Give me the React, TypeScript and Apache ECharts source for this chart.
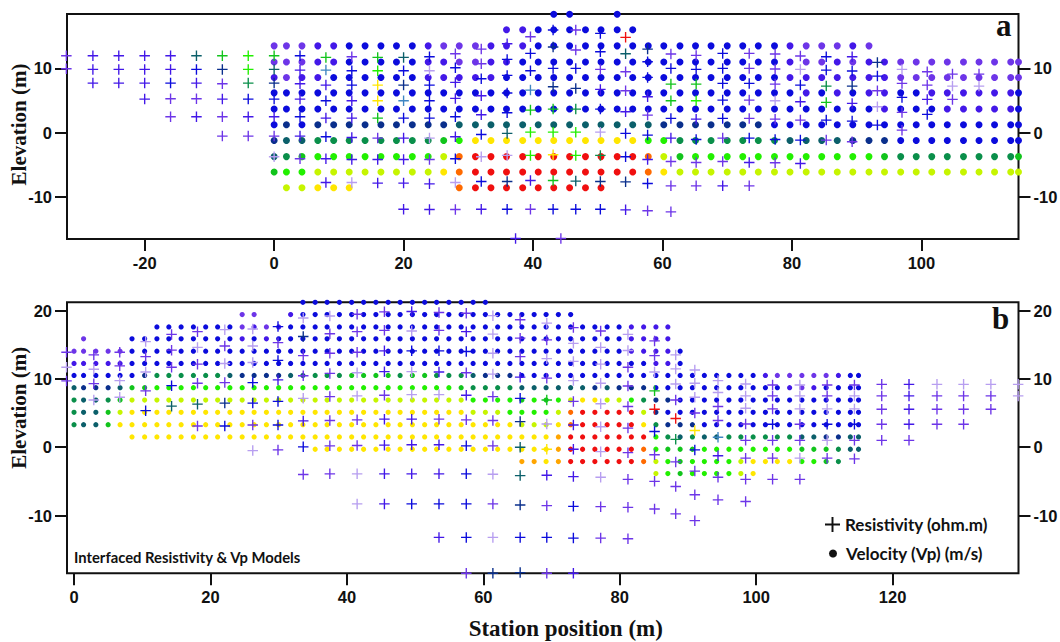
import React, { useEffect, useRef } from "react";
import * as echarts from "echarts";

const RES_NAME = "Resistivity (ohm.m)";
const VEL_NAME = "Velocity (Vp) (m/s)";

const palette: Record<string, string> = {
  v: "#6d35e8", i: "#4318e8", b: "#0b0bdc", n: "#0a2f8c", t: "#0b5f6a",
  g: "#0a8f4a", G: "#12c41c", l: "#22f000", y: "#c6f500", Y: "#ffe600",
  a: "#ffa500", o: "#ff6a00", r: "#f00f0f", c: "#3f86c2", f: "#b79ef0",
};

// Panel a: velocity grid
const velXA = [0,1.9,4.3,6.75,9.2,11.6,14.05,16.5,18.9,21.35,23.8,26.2,28.6,31.1,33.5,35.9,38.4,40.8,43.2,45.65,48.1,50.5,53,55.4,57.8,60.2,62.7,65.1,67.5,70,72.4,74.8,77.3,79.7,82.2,84.6,87,89.4,91.9,94.3,96.8,99.2,101.6,104,106.5,108.9,111.3,113.8,115];
const velYA = [18.4,16,13.5,11,8.6,6.2,3.7,1.25,-1.2,-3.7,-6.1,-8.55];
const velCodesA = [
  ".................." + "bb" + ".." + "b" + "..........................",
  "..............." + "iibbbbbbb" + ".........................",
  "vvvii" + "bbbbb" + "ivvv" + "iii" + "bbbbbbbbbbbbbbbb" + "i" + "vvv" + "i" + "v" + "..........",
  "vvvii" + "bbbbb" + "iivvii" + "b" + "bbbbbbbbbbbbbbbb" + "i" + "vvi" + "vii" + "vvvvvvvvvv",
  "ivii" + "bbbbbb" + "iiiii" + "bb" + "bbbbbbbbbbbbbbbb" + "iiiiiii" + "vvvvvvvvv",
  "bbbbbbbbbb" + "bbbbbbb" + "bbbbbbbbbbbbbbbb" + "bibib" + "iibbiiiiiib",
  "bbbbbbbbbb" + "bbbbbbb" + "bbbbbbbbbbbbbbbb" + "bbbbbb" + "ibbbiiiiib",
  "bnbnnnnnnnnn" + "ttttttttttttt" + "nnnnnnn" + "bbbbbbbbbbbbbbbbb",
  "n" + "tt" + "gggggggg" + "G" + "l" + "YYYYYYYYYYY" + "ll" + "ggggggg" + "tttt" + "nnn" + "bbbbbbbbb",
  "tgG" + "llllllll" + "y" + "o" + "rrrrrrrrrrr" + "o" + "y" + "G" + "llllllllllll" + "G" + "gggggggg" + "G",
  "Gll" + "yyyyyyyy" + "Y" + "o" + "rrrrrrrrrrr" + "o" + "Y" + "yyyyyyyyyyyyyyyyyyyyyyy",
  "." + "yyYYY" + "......" + "o" + "rrrrrrrrr" + "...........................",
];

// Panel a: resistivity columns
const resXA = [-32.1,-28,-24,-20,-16,-12,-8,-4,0,4,8,12,16,20,24,28,32,36,37.3,39.6,43.1,44.3,46.6,50.4,54.3,57.7,61.3,65.2,69.3,73.4,77.4,81.3,85.3,89.3,93.2,97,100.9,104.8,108.9];
const resYA = [
  [11.97,9.95],
  [11.97,9.84,7.72],
  [11.97,9.84,7.72],
  [11.97,9.84,7.72,5.23],
  [11.97,9.84,7.72,5.28,2.49],
  [11.97,9.84,7.72,5.28,2.49],
  [11.97,9.84,7.62,5.23,2.49,-0.52],
  [11.97,9.84,7.72,5.23,2.49,-0.52],
  [11.97,9.84,7.72,5.23,2.49,-0.52,-3.73],
  [11.97,9.74,7.62,5.23,2.49,-0.52,-4.04],
  [11.71,9.74,7.41,4.97,2.28,-0.62,-4.04,-7.72],
  [11.81,9.64,7.41,4.97,2.28,-0.73,-4.15,-7.72],
  [11.71,9.64,7.41,4.97,2.28,-0.83,-4.15,-7.82],
  [11.71,9.64,7.41,4.97,2.28,-0.83,-4.15,-7.82,-11.87],
  [11.81,9.64,7.41,4.97,2.28,-0.83,-4.15,-7.93,-11.92],
  [12.28,10.1,7.82,5.34,2.49,-0.62,-4.04,-7.72,-11.92],
  [13,10.73,8.39,5.75,2.8,-0.26,-3.73,-7.56,-11.87],
  [13.83,11.4,8.91,6.17,3.11,-0.1,-3.52,-7.56,-11.87],
  [-16.42],
  [14.92,12.33,9.64,6.63,3.52,0.1,-3.52,-7.41,-11.87],
  [15.96,13.32,10,7.15,3.68,0.1,-3.42,-7.41,-11.87],
  [-16.42],
  [15.96,12.85,10,6.89,3.68,0.1,-3.52,-7.51,-11.87],
  [15.44,12.59,9.84,6.74,3.68,0.1,-3.52,-7.56,-11.87],
  [14.82,12.28,9.48,6.53,3.26,-0.1,-3.73,-7.62,-11.97],
  [13,11.04,8.6,5.6,2.75,-0.36,-4.15,-7.88,-12.12],
  [12.23,10,7.56,4.97,2.23,-0.83,-4.46,-8.24,-12.28],
  [12.02,9.84,7.56,4.97,2.12,-1.04,-4.61,-8.24],
  [12.33,10,7.67,5.08,2.23,-0.83,-4.46,-8.24],
  [12.33,10,7.67,5.08,2.23,-0.83,-4.61,-8.24],
  [12.23,9.9,7.56,4.97,2.12,-1.04,-4.66],
  [11.92,9.84,7.41,4.82,1.97,-1.14,-4.77],
  [11.81,9.74,7.25,4.72,1.97,-1.14],
  [11.81,9.59,7.25,4.56,1.81,-1.4],
  [10.93,8.81,6.53,4.04,1.19],
  [9.84,7.67,5.49,3.16,0.41],
  [9.48,7.41,5.18,2.85],
  [9.12,7.25,5.18],
  [9.12,7.25],
];
const resCodesA = ["vv","iii","iii","iiii","iibvv","tbivi","Gnvivv","llgbiv","Gtnbivf","biiibiv","Gcibibii","vbbiiiif","GlYYGvii","tbncbiiii","bfbbbfvii","vbiibibfv","vvbiibfbi","ibbbbtfnb","i","vbbcGlliv","bnbnGlYGb","v","vvbnglltb","bbvibfgnb","rtvvibbni","nbbivbibv","vbGGbivvv","vbGlibvv","bbbbbvvi","vvbvvbiv","vvvfvbv","vfbivbi","bbgGbv","ibnibv","nbvfb","fvbvv","vvib","vfv","vf"];

// Panel b: velocity grid
const velXB = [0,1.4,3.2,5,6.75,8.5,10.35,12.15,13.9,15.7,17.5,19.3,21.05,22.85,24.65,26.4,28.2,30,31.75,33.55,35.35,37.1,38.9,40.7,42.45,44.25,46.05,47.8,49.6,51.4,53.15,54.95,56.75,58.5,60.3,62.1,63.9,65.65,67.45,69.2,71,72.8,74.55,76.35,78.15,79.9,81.7,83.5,85.3,87.05,88.85,90.65,92.4,94.2,96,97.75,99.55,101.35,103.1,104.9,106.7,108.45,110.25,112.05,113.8,115];
const velYB = [21.2,19.4,17.6,15.85,14.05,12.25,10.5,8.7,6.9,5.1,3.3,1.5,-0.3,-2.1,-3.85];
const velCodesB = [
  "..................." + "bbbbbbbbbbbbbbbb" + "...............................",
  ".............." + "vv" + ".." + "i" + "bbbbbbbbbbbbbbbbbbbbbbb" + "........................",
  "......." + "bbbbbbb" + "vivi" + "bbbbbbbbbbbbbbbbbbbbbbbbbbbb" + "iiii" + "................",
  ".v..." + "bbbbbbbbb" + "ibib" + "bbbbbbbbbbbbbbbbbbbbbbbbbbbb" + "iiii" + "................",
  "vvvvv" + "bbbbbbbbbbbbbbbbbbbbbbbbbbbbbbbbbbbbbbbbb" + "iiiib" + "...............",
  "iiiii" + "bbbbbbbbbbbbbbbbbbbbbbbbbbbbbbbbbbbbbbbbb" + "bbiib" + "...............",
  "bbbbbb" + "n" + "gggggg" + "t" + "nnnn" + "tt" + "ggg" + "GGGG" + "g" + "GG" + "ggg" + "t" + "nnn" + "bbbbbbbbbbbbbbbbbbbb" + "i" + "vvvvv" + "ibb",
  "tnnnt" + "GG" + "lllllllllllllllllllllllll" + "G" + "gggg" + "t" + "ttttt" + "nt" + "nnn" + "bbbbbbbbbbb" + "ivib" + "bbb",
  "gttgG" + "yyyyyyyyyyyyyyyyyyyyyyyyyyyy" + "llll" + "G" + "l" + "G" + "l" + "y" + "YY" + "yy" + "l" + "g" + "nn" + "bbbbbbbbbbbbbbbb",
  "gttGy" + "YYYYYYYYYYYYYYYYYYYYYYYYYYYY" + "yyy" + "ll" + "ll" + "y" + "o" + "rrrrr" + "y" + "n" + "bbbbbbbbbbbbbbbbb",
  "gttG" + "YYYYYYYYYYYYYYYYYYYYYYYYYYYYYYYYY" + "yyy" + "Y" + "o" + "rrrrr" + "Y" + "g" + "nnn" + "bbbbbbbbbbbbbb",
  "....." + "YYYYYYYYYYYYYYYYYYYYYYYYYYYYYYYYYYY" + "a" + "rrrrrrr" + "l" + "gtgtt" + "gggggg" + "tt" + "nn" + "tt",
  "...................." + "YYYYYYYYYYYYYYYYYYYY" + "a" + "rrrrrr" + "o" + "lGGG" + "llllllll" + "GGG" + "g" + "tt",
  "....................................." + "aa" + "Y" + "a" + "rrrrrr" + "o" + "ylG" + "llll" + "y" + "YYYY" + "ll" + "Gg" + "..",
  "................................................" + "ylGllllyY" + ".........",
];

// Panel b: resistivity columns
const resXB = [-1.1,2.9,6.7,10.5,14.3,18.1,22.1,26.2,29.9,33.6,37.5,41.5,45.5,49.5,53.5,57.5,61.4,65.4,69.3,73.2,77.2,81.2,85.1,88.2,91,94.4,98.45,102.4,106.4,110.4,114.4,118.4,122.4,126.5,130.4,134.4,138.4];
const resYB = [
  [13.9,11.7,9.7],
  [13.5,11.4,9.3,6.9],
  [13.9,11.9,9.75,7.3],
  [15.45,13.25,11,8.25,5.35],
  [16.5,14.2,11.7,9,6],
  [16.9,14.6,12.15,9.35,6.3,3.1],
  [17.2,14.8,12.25,9.45,6.45,3.1],
  [17.3,14.8,12.4,9.45,6.45,3.25,-0.5],
  [17.65,15.3,12.7,9.85,6.7,3.25,-0.4],
  [18.9,16.2,13.4,10.45,7.15,3.85,0.05,-4],
  [19.2,16.6,13.75,10.8,7.4,3.9,0.2,-3.9],
  [19.45,16.9,13.9,10.9,7.5,4,0.25,-3.9,-8.3],
  [19.8,17.1,14.1,11.05,7.6,4.1,0.3,-3.9,-8.3],
  [19.85,17,14.1,11.05,7.7,4.1,0.35,-3.9,-8.3],
  [19.7,17.1,14.1,11,7.7,4.1,0.35,-3.9,-8.3,-13.2],
  [19.6,16.9,14,10.9,7.6,4,0.2,-3.9,-8.3,-13.2,-18.45],
  [19.25,16.55,13.75,10.7,7.4,3.9,0.2,-3.95,-8.3,-13.2,-18.45],
  [18.65,15.95,13.25,10.25,7.15,3.75,0,-4.15,-8.45,-13.2,-18.35],
  [18.15,15.7,12.95,10.1,6.9,3.4,-0.3,-4.1,-8.55,-13.2,-18.45],
  [17.5,15.2,12.55,9.75,6.7,3.25,-0.3,-4.3,-8.65,-13.3,-18.45],
  [17,14.6,12.15,9.35,6.35,3,-0.65,-4.4,-8.7,-13.3],
  [16.5,14.15,11.7,8.95,5.95,2.8,-0.8,-4.7,-8.8,-13.4],
  [15.55,13.4,11,8.25,5.55,2.3,-1.1,-5,-9.05],
  [13.5,11.45,9.25,6.9,4.2,1.15,-2.15,-5.75,-9.75],
  [11.3,9.35,7.3,5,2.45,-0.4,-3.5,-6.95,-10.75],
  [9.75,8,5.95,3.9,1.45,-1.25,-4.4,-7.7],
  [9.25,7.5,5.7,3.4,1,-1.6,-4.7,-7.95],
  [9.1,7.5,5.6,3.35,1,-1.6,-4.7],
  [9.1,7.5,5.6,3.35,1,-1.6,-4.7],
  [9.1,7.5,5.6,3.35,1,-1.6],
  [9.1,7.5,5.6,3.35,1,-1.7],
  [9.2,7.5,5.55,3.35,1],
  [9.2,7.5,5.55,3.35,1],
  [9.2,7.5,5.55,3.35],
  [9.2,7.5,5.55,3.35],
  [9.2,7.5,5.55],
  [9.2,7.5],
];
const resCodesB = ["vfv","vfvf","vvff","fvfvb","vvvbt","vfvvtv","fvfvnb","fffbbvf","bvbibbv","fnvvfibv","fvvvvvvv","vvvffvvff","vviiviiii","ifbffiiib","vvbifviibi","vibvivbbbbv","ffffvvvfvfn","vvvibnttnbn","fvfvGfYivbv","vfffviiibbi","vfffffffvv","ffvvvvvvvv","vvfGrbvvv","fffvrgvvv","fffvYbvvv","ffvvcivv","fffvvvvv","vvvbvvv","fffvvfv","vvfbfv","vffbvv","vvvvv","iiiiv","fvvv","fvvv","fvv","ff"];

// Ticks
const xTicksA = [-20,0,20,40,60,80,100];
const yTicksA = [-10,0,10];
const xTicksB = [0,20,40,60,80,100,120];
const yTicksB = [-10,0,10,20];

const crossPath = "path://M0,4.35H10V5.65H0Z M4.35,0H5.65V10H4.35Z";

function velocityPoints(xs: number[], ys: number[], codes: string[]) {
  const out: any[] = [];
  ys.forEach((y, r) => {
    xs.forEach((x, c) => {
      const code = codes[r][c];
      if (code && code !== ".") out.push({ value: [x, y], itemStyle: { color: palette[code] } });
    });
  });
  return out;
}

function resistivityPoints(xs: number[], ys: number[][], codes: string[]) {
  const out: any[] = [];
  xs.forEach((x, c) => {
    ys[c].forEach((y, r) => {
      out.push({ value: [x, y], itemStyle: { color: palette[codes[c][r]] || palette.v } });
    });
  });
  return out;
}

const tickFont = { color: "#111", fontFamily: "Liberation Sans", fontWeight: "bold" as const, fontSize: 16.5 };
const nameFont = { color: "#111", fontFamily: "Liberation Serif", fontWeight: "bold" as const, fontSize: 21 };

function xAxis(gridIndex: number, min: number, max: number, ticks: number[], extra: any = {}) {
  return {
    type: "value", gridIndex, min, max, position: "bottom", splitLine: { show: false }, axisLine: { show: false, onZero: false },
    axisTick: { show: true, length: 12, customValues: ticks, lineStyle: { color: "#111", width: 2 } },
    axisLabel: { ...tickFont, margin: 15, customValues: ticks, formatter: (v: number) => String(v) },
    nameMoveOverlap: false,
    ...extra,
  };
}
function yAxis(gridIndex: number, min: number, max: number, ticks: number[], position: string, extra: any = {}) {
  return {
    type: "value", gridIndex, min, max, position, splitLine: { show: false }, axisLine: { show: false, onZero: false },
    axisTick: { show: true, length: 12, customValues: ticks, lineStyle: { color: "#111", width: 2 } },
    axisLabel: { ...tickFont, margin: 15, customValues: ticks, formatter: (v: number) => String(v) },
    nameMoveOverlap: false,
    ...extra,
  };
}

export default function App() {
  const ref = useRef<HTMLDivElement>(null);
  useEffect(() => {
    const chart = echarts.init(ref.current!, null, { renderer: "svg" });
    const border = { show: true, borderColor: "#111", borderWidth: 2, backgroundColor: "transparent", outerBoundsMode: "none", containLabel: false };
    const scatter = (name: string, idx: number, data: any[], symbol: string, size: number, z: number) => ({
      name, type: "scatter", xAxisIndex: idx, yAxisIndex: idx * 2, data, symbol, symbolSize: size,
      clip: false, z, itemStyle: { color: "#111", opacity: 1 }, silent: true,
    });
    chart.setOption({
      animation: false,
      backgroundColor: "#fff",
      grid: [
        { left: 67, top: 14, width: 951.5, height: 225, ...border },
        { left: 67, top: 302.3, width: 951.5, height: 271, ...border },
      ],
      xAxis: [
        xAxis(0, -32, 115, xTicksA),
        xAxis(1, -1.03, 138.45, xTicksB, {
          name: "Station position (m)", nameLocation: "middle", nameGap: 44,
          nameTextStyle: { ...nameFont, fontSize: 23, padding: [0, 0, 0, 46] },
        }),
      ],
      yAxis: [
        yAxis(0, -16.5, 18.45, yTicksA, "left", {
          name: "Elevation (m)", nameLocation: "middle", nameGap: 38,
          nameTextStyle: { ...nameFont, padding: [0, 0, 0, 4] },
        }),
        yAxis(0, -16.5, 18.45, yTicksA, "right"),
        yAxis(1, -18.45, 21.2, yTicksB, "left", {
          name: "Elevation (m)", nameLocation: "middle", nameGap: 38,
          nameTextStyle: { ...nameFont, padding: [0, 0, 0, 60] },
        }),
        yAxis(1, -18.45, 21.2, yTicksB, "right"),
      ],
      legend: [
        {
          left: 825, top: 516, padding: 0, data: [{ name: RES_NAME, icon: crossPath }], itemWidth: 15, itemHeight: 15,
          selectedMode: false, textStyle: { color: "#111", fontFamily: "Lato", fontWeight: "bold", fontSize: 17 },
        },
        {
          left: 829, top: 545, padding: 0, data: [{ name: VEL_NAME, icon: "circle" }], itemWidth: 8, itemHeight: 8,
          selectedMode: false, textStyle: { color: "#111", fontFamily: "Lato", fontWeight: "bold", fontSize: 17, padding: [0, 0, 0, 4] },
        },
      ],
      graphic: [
        { type: "text", x: 996, y: 10, style: { text: "a", fill: "#111", font: "bold 31px 'Liberation Serif'" } },
        { type: "text", x: 992, y: 303, style: { text: "b", fill: "#111", font: "bold 31px 'Liberation Serif'" } },
        { type: "text", x: 74, y: 549, style: { text: "Interfaced Resistivity & Vp Models", fill: "#111", font: "bold 14.8px Lato" } },
      ],
      series: [
        scatter(VEL_NAME, 0, velocityPoints(velXA, velYA, velCodesA), "circle", 7, 2),
        scatter(RES_NAME, 0, resistivityPoints(resXA, resYA, resCodesA), crossPath, 10.5, 3),
        scatter(VEL_NAME, 1, velocityPoints(velXB, velYB, velCodesB), "circle", 5.2, 2),
        scatter(RES_NAME, 1, resistivityPoints(resXB, resYB, resCodesB), crossPath, 10.5, 3),
      ],
    });
    return () => chart.dispose();
  }, []);
  return <div ref={ref} style={{ position: "absolute", left: 0, top: 0, width: 1060, height: 642 }} />;
}
